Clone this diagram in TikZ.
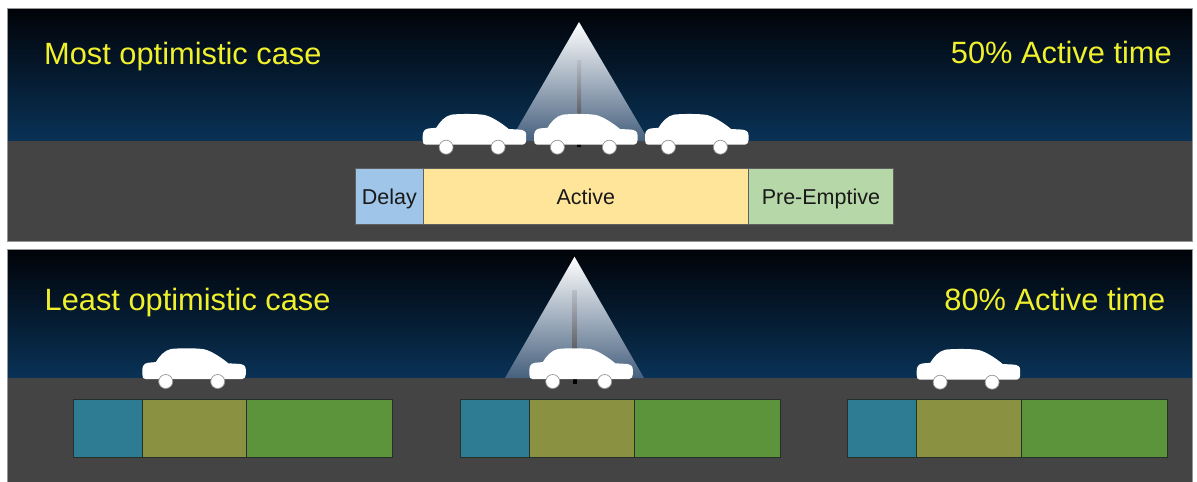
\documentclass[tikz,border=0pt]{standalone}
\usepackage{fontspec}
\setmainfont{Liberation Sans}
\definecolor{skytop}{RGB}{1,3,8}
\definecolor{skybot}{RGB}{9,50,86}
\definecolor{road}{RGB}{68,68,68}
\definecolor{panelline}{RGB}{150,150,150}
\definecolor{titleyellow}{RGB}{240,240,44}
\definecolor{conemid}{RGB}{185,193,207}
\definecolor{conebot}{RGB}{70,96,126}
\definecolor{poletop}{RGB}{185,190,200}
\definecolor{polebot}{RGB}{48,48,52}
\definecolor{wheelline}{RGB}{150,150,150}
\definecolor{delaycol}{RGB}{159,197,232}
\definecolor{activecol}{RGB}{255,229,153}
\definecolor{preemptcol}{RGB}{182,215,168}
\definecolor{barline}{RGB}{95,95,95}
\definecolor{delaydark}{RGB}{46,124,148}
\definecolor{activedark}{RGB}{138,145,64}
\definecolor{preemptdark}{RGB}{92,148,60}
\definecolor{darkline}{RGB}{38,48,40}
\tikzset{
  title/.style={text=titleyellow, font=\fontsize{30.8}{36}\selectfont, inner sep=0pt},
  barbox/.style={draw=barline, line width=0.8pt, inner sep=0pt, anchor=north west,
    minimum height=56pt, text height=20pt, text depth=4.6pt,
    font=\fontsize{21.5}{25}\selectfont, text=black!90},
  darkbox/.style={draw=darkline, line width=1pt, inner sep=0pt, anchor=north west,
    minimum height=58pt},
  car/.pic={
    \fill[white] (3,30.7) -- (100,30.7)
      .. controls (102.5,30.4) and (103.5,28.5) .. (103.5,26)
      -- (103.5,21)
      .. controls (103.5,17.5) and (101,16) .. (97,15.6)
      -- (86,15)
      .. controls (80,10) and (70,3) .. (62,1)
      .. controls (55,-0.3) and (38,-0.3) .. (29,0.6)
      .. controls (22,2) and (17,8) .. (13.5,13.8)
      -- (6,14.4)
      .. controls (1.5,15) and (0,18) .. (0,22)
      -- (0,26)
      .. controls (0,29) and (1,30.7) .. (3,30.7) -- cycle;
    \filldraw[fill=white, draw=wheelline, line width=0.7pt] (23.4,33.2) circle (7);
    \filldraw[fill=white, draw=wheelline, line width=0.7pt] (75.4,33.2) circle (7);
  }
}
\begin{document}
\begin{tikzpicture}[x=1pt,y=-1pt]
\useasboundingbox (0,0) rectangle (1197,482);
\fill[white] (0,0) rectangle (1197,482);

% ---------- upper panel: night sky and road
\shade[top color=skytop, bottom color=skybot] (7.3,8) rectangle (1192.7,141);
\fill[road] (7.3,141) rectangle (1192.7,241);
\draw[panelline, line width=0.5pt] (7.3,8) rectangle (1192.7,241);

% street lamp with its light cone
\shade[top color=white, middle color=conemid, bottom color=conebot]
  (579,22) -- (649,141) -- (510,141) -- cycle;
\shade[top color=poletop, bottom color=polebot] (577,60) rectangle (581,141);
\fill[black] (577,141) rectangle (581,147);

% queued cars
\pic at (422.7,114) {car};
\pic at (534,114) {car};
\pic at (645,114) {car};

% phase bar
\node[barbox, fill=delaycol, minimum width=68pt] (delay) at (355,168) {Delay};
\node[barbox, fill=activecol, minimum width=325pt] (active) at (423,168) {Active};
\node[barbox, fill=preemptcol, minimum width=145pt] (preempt) at (748,168) {Pre-Emptive};

\node[title, anchor=base west] (most) at (44,64.3) {Most optimistic case};
\node[title, anchor=base east] (fifty) at (1172,63.3) {50\% Active time};

% ---------- lower panel
\shade[top color=skytop, bottom color=skybot] (7.3,249.3) rectangle (1192.7,378);
\fill[road] (7.3,378) rectangle (1192.7,482);
\draw[panelline, line width=0.5pt] (7.3,482) -- (7.3,249.3) -- (1192.7,249.3) -- (1192.7,482);

\shade[top color=white, middle color=conemid, bottom color=conebot]
  (574.5,256.7) -- (644,378) -- (505,378) -- cycle;
\shade[top color=poletop, bottom color=polebot] (572.5,290) rectangle (576.5,378);
\fill[black] (572.5,378) rectangle (576.5,384);

\pic at (142.3,348.3) {car};
\pic at (529.3,348.3) {car};
\pic at (916.7,349) {car};

% three short-headway phase bars
\node[darkbox, fill=delaydark, minimum width=69pt] (d1) at (73,398.5) {};
\node[darkbox, fill=activedark, minimum width=104pt] (a1) at (142,398.5) {};
\node[darkbox, fill=preemptdark, minimum width=146pt] (p1) at (246,398.5) {};

\node[darkbox, fill=delaydark, minimum width=69pt] (d2) at (460.3,398.5) {};
\node[darkbox, fill=activedark, minimum width=104.7pt] (a2) at (529.3,398.5) {};
\node[darkbox, fill=preemptdark, minimum width=146pt] (p2) at (634,398.5) {};

\node[darkbox, fill=delaydark, minimum width=69pt] (d3) at (846.7,398.5) {};
\node[darkbox, fill=activedark, minimum width=105.3pt] (a3) at (915.7,398.5) {};
\node[darkbox, fill=preemptdark, minimum width=145.7pt] (p3) at (1021,398.5) {};

\node[title, anchor=base west] (least) at (44.5,310.7) {Least optimistic case};
\node[title, anchor=base east] (eighty) at (1165.5,310) {80\% Active time};
\end{tikzpicture}
\end{document}
